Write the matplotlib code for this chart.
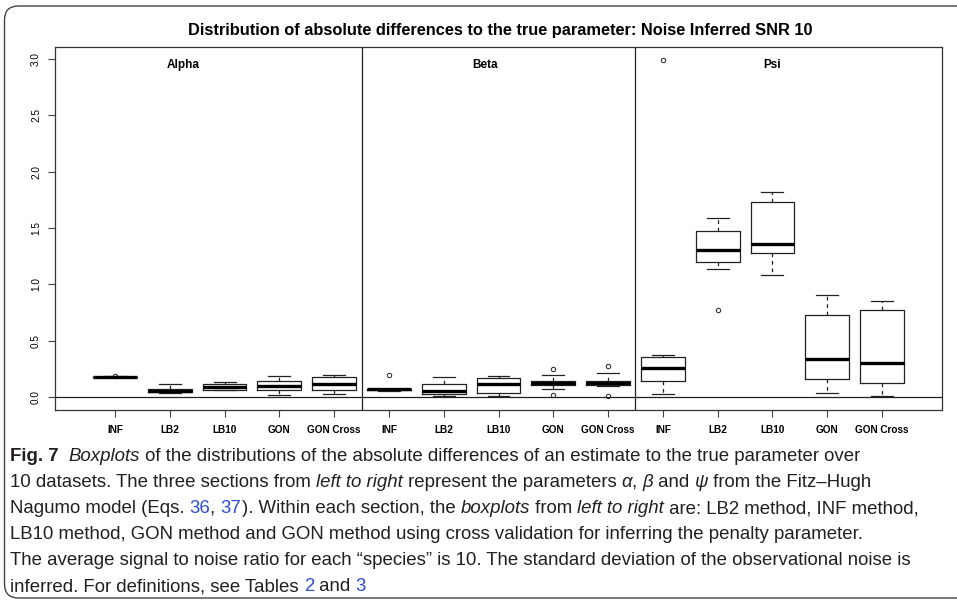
import matplotlib
matplotlib.use("Agg")
import matplotlib.pyplot as plt
from matplotlib.patches import FancyBboxPatch
from matplotlib.transforms import IdentityTransform

# five summary values per box: whisker low, Q1, median, Q3, whisker high
methods = ["INF", "LB2", "LB10", "GON", "GON Cross"]
sections = ["Alpha", "Beta", "Psi"]

alpha_stats = [
    [0.176, 0.178, 0.180, 0.182, 0.184],
    [0.035, 0.047, 0.056, 0.074, 0.120],
    [0.062, 0.062, 0.092, 0.118, 0.133],
    [0.015, 0.065, 0.095, 0.145, 0.184],
    [0.027, 0.059, 0.115, 0.175, 0.193],
]
alpha_fliers = [[0.19], [], [], [], []]

beta_stats = [
    [0.053, 0.062, 0.068, 0.070, 0.072],
    [0.009, 0.024, 0.053, 0.118, 0.180],
    [0.006, 0.038, 0.118, 0.168, 0.190],
    [0.068, 0.106, 0.127, 0.145, 0.193],
    [0.100, 0.104, 0.121, 0.145, 0.210],
]
beta_fliers = [[0.195], [], [], [0.248, 0.020], [0.272, 0.006]]

psi_stats = [
    [0.027, 0.145, 0.260, 0.358, 0.370],
    [1.133, 1.198, 1.304, 1.473, 1.590],
    [1.080, 1.275, 1.358, 1.728, 1.822],
    [0.038, 0.157, 0.340, 0.725, 0.902],
    [0.012, 0.121, 0.304, 0.769, 0.849],
]
psi_fliers = [[2.99], [0.772], [], [], []]

y_ticks = [0.0, 0.5, 1.0, 1.5, 2.0, 2.5, 3.0]

W, H = 957, 603
fig = plt.figure(figsize=(W / 100, H / 100), dpi=100)
plt.rcParams["font.family"] = ["Liberation Sans", "DejaVu Sans"]

ax = fig.add_axes([55 / W, 1 - 410 / H, (942 - 55) / W, (410 - 47) / H])

bxp_stats = []
for stats, fliers in zip(alpha_stats + beta_stats + psi_stats,
                         alpha_fliers + beta_fliers + psi_fliers):
    lo, q1, med, q3, hi = stats
    bxp_stats.append(dict(whislo=lo, q1=q1, med=med, q3=q3, whishi=hi, fliers=fliers))

positions = list(range(1, len(bxp_stats) + 1))
ax.bxp(bxp_stats, positions=positions, widths=0.8, showfliers=True,
       boxprops=dict(color="#222222", linewidth=0.9),
       whiskerprops=dict(color="#222222", linewidth=0.9, linestyle=(0, (3, 3))),
       capprops=dict(color="#222222", linewidth=0.9),
       medianprops=dict(color="black", linewidth=2.4),
       flierprops=dict(marker="o", markersize=3.2, markerfacecolor="none",
                       markeredgecolor="#222222", markeredgewidth=0.7),
       capwidths=0.4)

ax.axhline(0, color="#222222", linewidth=0.9)
for xd in [5.5, 10.5]:
    ax.axvline(xd, color="#222222", linewidth=0.9)

# section names sit a little left of each section's middle
for name, xpos in zip(sections, [2.24, 7.75, 13.0]):
    ax.text(xpos, 2.95, name, ha="center", va="center", fontsize=8.5, fontweight="bold")

ax.set_xlim(1 - 1.095, 15 + 1.095)
ax.set_ylim(-0.115, 3.107)
ax.set_xticks(positions)
ax.set_xticklabels(methods * 3, fontsize=7.2, fontweight="bold")
ax.set_yticks(y_ticks)
ax.set_yticklabels([f"{v:.1f}" for v in y_ticks], rotation=90, va="center", fontsize=7.2)
ax.tick_params(axis="x", length=5, width=0.8, pad=6, color="#444444")
ax.tick_params(axis="y", length=5, width=0.8, pad=5, color="#444444")
for s in ax.spines.values():
    s.set_linewidth(0.9)
    s.set_color("#333333")

fig.text(500 / W, 1 - 30 / H,
         "Distribution of absolute differences to the true parameter: Noise Inferred SNR 10",
         ha="center", va="center", fontsize=11.8, fontweight="bold")

# rounded frame around the figure and its caption
frame = FancyBboxPatch((4.5, 5), 1100, 592, boxstyle="round,pad=0,rounding_size=14",
                       transform=IdentityTransform(), fill=False,
                       edgecolor="#444444", linewidth=1.0)
fig.patches.append(frame)

# caption, laid out run by run so the styles can change inside a line
renderer = fig.canvas.get_renderer()
cap_font = ["Liberation Sans", "DejaVu Sans"]
cap_size = 13.4
ink = "#231f20"
link = "#2f4fd0"


def run_width(s, **kw):
    a = fig.text(0, 0, "a" + s + "a", transform=IdentityTransform(), **kw)
    b = fig.text(0, 0, "aa", transform=IdentityTransform(), **kw)
    w = a.get_window_extent(renderer).width - b.get_window_extent(renderer).width
    a.remove()
    b.remove()
    return w


def draw_line(x, y, runs):
    for s, style in runs:
        kw = dict(fontsize=cap_size, family=cap_font, color=ink)
        if style == "b":
            kw["fontweight"] = "bold"
        elif style == "i":
            kw["fontstyle"] = "italic"
        elif style == "l":
            kw["color"] = link
        fig.text(x, y, s, transform=IdentityTransform(), va="baseline", **kw)
        x += run_width(s, **kw)


caption = [
    [("Fig. 7", "b"), ("  ", ""), ("Boxplots", "i"),
     (" of the distributions of the absolute differences of an estimate to the true parameter over", "")],
    [("10 datasets. The three sections from ", ""), ("left to right", "i"),
     (" represent the parameters ", ""), ("α", "i"), (", ", ""), ("β", "i"), (" and ", ""),
     ("ψ", "i"), (" from the Fitz–Hugh", "")],
    [("Nagumo model (Eqs. ", ""), ("36", "l"), (", ", ""), ("37", "l"),
     ("). Within each section, the ", ""), ("boxplots", "i"), (" from ", ""),
     ("left to right", "i"), (" are: LB2 method, INF method,", "")],
    [("LB10 method, GON method and GON method using cross validation for inferring the penalty parameter.", "")],
    [("The average signal to noise ratio for each “species” is 10. The standard deviation of the observational noise is", "")],
    [("inferred. For definitions, see Tables ", ""), ("2", "l"), (" and ", ""), ("3", "l")],
]
for k, runs in enumerate(caption):
    draw_line(10, H - (461 + 26 * k), runs)

fig.savefig("out.png", dpi=100)
